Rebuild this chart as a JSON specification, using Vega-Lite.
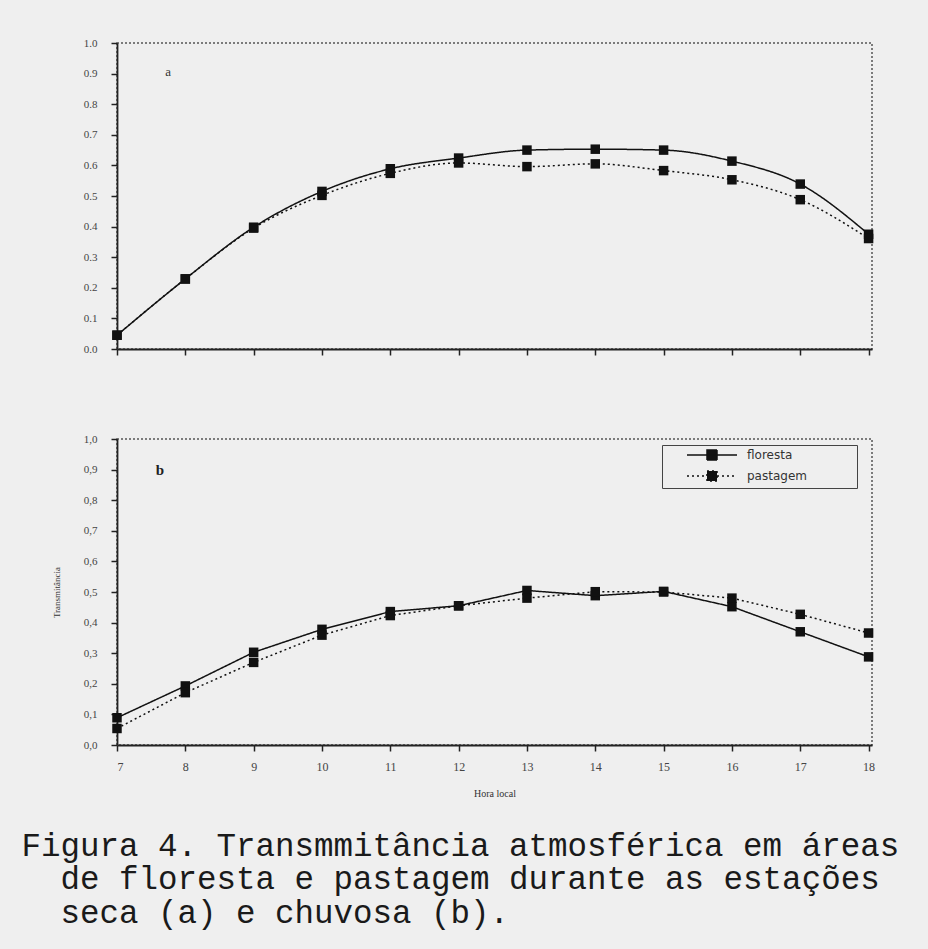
{
  "$schema": "https://vega.github.io/schema/vega-lite/v6.json",
  "background": "#efefef",
  "padding": {"left": 21, "top": 36, "right": 28, "bottom": 20},
  "spacing": 75,
  "resolve": {"scale": {"strokeDash": "independent"}, "legend": {"strokeDash": "independent"}},
  "datasets": {
    "seca": [
      {"hora": 7, "transmitancia": 0.045, "area": "floresta"},
      {"hora": 8, "transmitancia": 0.229, "area": "floresta"},
      {"hora": 9, "transmitancia": 0.398, "area": "floresta"},
      {"hora": 10, "transmitancia": 0.515, "area": "floresta"},
      {"hora": 11, "transmitancia": 0.589, "area": "floresta"},
      {"hora": 12, "transmitancia": 0.624, "area": "floresta"},
      {"hora": 13, "transmitancia": 0.650, "area": "floresta"},
      {"hora": 14, "transmitancia": 0.653, "area": "floresta"},
      {"hora": 15, "transmitancia": 0.650, "area": "floresta"},
      {"hora": 16, "transmitancia": 0.614, "area": "floresta"},
      {"hora": 17, "transmitancia": 0.539, "area": "floresta"},
      {"hora": 18, "transmitancia": 0.375, "area": "floresta"},
      {"hora": 7, "transmitancia": 0.045, "area": "pastagem"},
      {"hora": 8, "transmitancia": 0.229, "area": "pastagem"},
      {"hora": 9, "transmitancia": 0.395, "area": "pastagem"},
      {"hora": 10, "transmitancia": 0.502, "area": "pastagem"},
      {"hora": 11, "transmitancia": 0.574, "area": "pastagem"},
      {"hora": 12, "transmitancia": 0.608, "area": "pastagem"},
      {"hora": 13, "transmitancia": 0.596, "area": "pastagem"},
      {"hora": 14, "transmitancia": 0.605, "area": "pastagem"},
      {"hora": 15, "transmitancia": 0.583, "area": "pastagem"},
      {"hora": 16, "transmitancia": 0.553, "area": "pastagem"},
      {"hora": 17, "transmitancia": 0.488, "area": "pastagem"},
      {"hora": 18, "transmitancia": 0.361, "area": "pastagem"}
    ],
    "chuvosa": [
      {"hora": 7, "transmitancia": 0.089, "area": "floresta"},
      {"hora": 8, "transmitancia": 0.193, "area": "floresta"},
      {"hora": 9, "transmitancia": 0.303, "area": "floresta"},
      {"hora": 10, "transmitancia": 0.378, "area": "floresta"},
      {"hora": 11, "transmitancia": 0.436, "area": "floresta"},
      {"hora": 12, "transmitancia": 0.455, "area": "floresta"},
      {"hora": 13, "transmitancia": 0.505, "area": "floresta"},
      {"hora": 14, "transmitancia": 0.488, "area": "floresta"},
      {"hora": 15, "transmitancia": 0.502, "area": "floresta"},
      {"hora": 16, "transmitancia": 0.452, "area": "floresta"},
      {"hora": 17, "transmitancia": 0.370, "area": "floresta"},
      {"hora": 18, "transmitancia": 0.288, "area": "floresta"},
      {"hora": 7, "transmitancia": 0.054, "area": "pastagem"},
      {"hora": 8, "transmitancia": 0.171, "area": "pastagem"},
      {"hora": 9, "transmitancia": 0.270, "area": "pastagem"},
      {"hora": 10, "transmitancia": 0.359, "area": "pastagem"},
      {"hora": 11, "transmitancia": 0.423, "area": "pastagem"},
      {"hora": 12, "transmitancia": 0.455, "area": "pastagem"},
      {"hora": 13, "transmitancia": 0.480, "area": "pastagem"},
      {"hora": 14, "transmitancia": 0.501, "area": "pastagem"},
      {"hora": 15, "transmitancia": 0.500, "area": "pastagem"},
      {"hora": 16, "transmitancia": 0.480, "area": "pastagem"},
      {"hora": 17, "transmitancia": 0.427, "area": "pastagem"},
      {"hora": 18, "transmitancia": 0.366, "area": "pastagem"}
    ],
    "rotuloA": [{"hora": 7.75, "transmitancia": 0.905, "rotulo": "a"}],
    "rotuloB": [{"hora": 7.63, "transmitancia": 0.9, "rotulo": "b"}]
  },
  "title": {
    "text": [
      "Figura 4. Transmmitância atmosférica em áreas",
      "\u200b\u00a0\u00a0de floresta e pastagem durante as estações",
      "\u200b\u00a0\u00a0seca (a) e chuvosa (b)."
    ],
    "orient": "bottom",
    "anchor": "start",
    "frame": "bounds",
    "font": "Liberation Mono",
    "fontSize": 32.5,
    "fontWeight": "normal",
    "lineHeight": 33.5,
    "color": "#1a1a1a",
    "offset": 31,
    "dx": -30
  },
  "config": {
    "view": {"stroke": "#555", "strokeDash": [2, 2], "strokeWidth": 1.5},
    "axis": {
      "domainColor": "#222",
      "domainWidth": 1.8,
      "tickColor": "#222",
      "tickWidth": 1.5,
      "tickSize": 6,
      "grid": false,
      "labelFont": "Liberation Serif",
      "labelFontSize": 11,
      "labelColor": "#444",
      "labelOverlap": false,
      "titleFont": "Liberation Serif",
      "titleFontWeight": "normal",
      "titleColor": "#333"
    }
  },
  "vconcat": [
    {
      "width": 755,
      "height": 306,
      "encoding": {
        "x": {"field": "hora", "type": "quantitative", "scale": {"domain": [7, 18.05], "nice": false, "zero": false},
              "axis": {"values": [7, 8, 9, 10, 11, 12, 13, 14, 15, 16, 17, 18], "labels": false, "title": null}},
        "y": {"field": "transmitancia", "type": "quantitative", "scale": {"domain": [0, 1], "nice": false},
              "axis": {"values": [0, 0.1, 0.2, 0.3, 0.4, 0.5, 0.6, 0.7, 0.8, 0.9, 1], "format": ".1f", "labelPadding": 14, "title": null}}
      },
      "layer": [
        {
          "data": {"name": "seca"},
          "mark": {"type": "line", "interpolate": "monotone", "color": "#111", "strokeWidth": 1.5},
          "encoding": {
            "strokeDash": {"field": "area", "type": "nominal", "scale": {"domain": ["floresta", "pastagem"], "range": [[1, 0], [2, 3]]}, "legend": null}
          }
        },
        {
          "data": {"name": "seca"},
          "mark": {"type": "point", "shape": "square", "filled": true, "size": 90, "color": "#111", "opacity": 1},
          "encoding": {
            "detail": {"field": "area", "type": "nominal"}
          }
        },
        {
          "data": {"name": "rotuloA"},
          "mark": {"type": "text", "font": "Liberation Serif", "fontSize": 13, "color": "#333"},
          "encoding": {
            "text": {"field": "rotulo"}
          }
        }
      ]
    },
    {
      "width": 755,
      "height": 306,
      "encoding": {
        "x": {"field": "hora", "type": "quantitative", "scale": {"domain": [7, 18.05], "nice": false, "zero": false},
              "axis": {"values": [7, 8, 9, 10, 11, 12, 13, 14, 15, 16, 17, 18], "format": "d", "title": "Hora local", "labelFontSize": 12, "labelPadding": 10, "titleFontSize": 10, "titlePadding": 16}},
        "y": {"field": "transmitancia", "type": "quantitative", "scale": {"domain": [0, 1], "nice": false},
              "axis": {"values": [0, 0.1, 0.2, 0.3, 0.4, 0.5, 0.6, 0.7, 0.8, 0.9, 1], "labelExpr": "replace(format(datum.value, '.1f'), '.', ',')", "labelPadding": 14, "title": "Transmitância", "titleFontSize": 9, "titlePadding": 22}}
      },
      "layer": [
        {
          "data": {"name": "chuvosa"},
          "mark": {"type": "line", "color": "#111", "strokeWidth": 1.5},
          "encoding": {
            "strokeDash": {"field": "area", "type": "nominal", "scale": {"domain": ["floresta", "pastagem"], "range": [[1, 0], [2, 3]]},
              "legend": {
                "orient": "none", "legendX": 545, "legendY": 6, "title": null,
                "symbolType": "M-5,0H5M-1,-1H1V1H-1Z", "symbolSize": 100, "symbolStrokeWidth": 1.5,
                "symbolFillColor": "#111", "symbolStrokeColor": "#111",
                "symbolOffset": 40, "labelOffset": 29, "padding": 4, "rowPadding": 5,
                "strokeColor": "#444",
                "labelFont": "DejaVu Sans", "labelFontSize": 12, "labelColor": "#333",
                "labelExpr": "datum.label + '\u00a0\u00a0\u00a0\u00a0\u00a0\u00a0\u00a0\u00a0\u00a0\u00a0\u00a0\u00a0\u200b'"
              }}
          }
        },
        {
          "data": {"name": "chuvosa"},
          "mark": {"type": "point", "shape": "square", "filled": true, "size": 90, "color": "#111", "opacity": 1},
          "encoding": {
            "detail": {"field": "area", "type": "nominal"}
          }
        },
        {
          "data": {"name": "rotuloB"},
          "mark": {"type": "text", "font": "Liberation Serif", "fontSize": 15, "fontWeight": "bold", "color": "#222"},
          "encoding": {
            "text": {"field": "rotulo"}
          }
        }
      ]
    }
  ]
}
